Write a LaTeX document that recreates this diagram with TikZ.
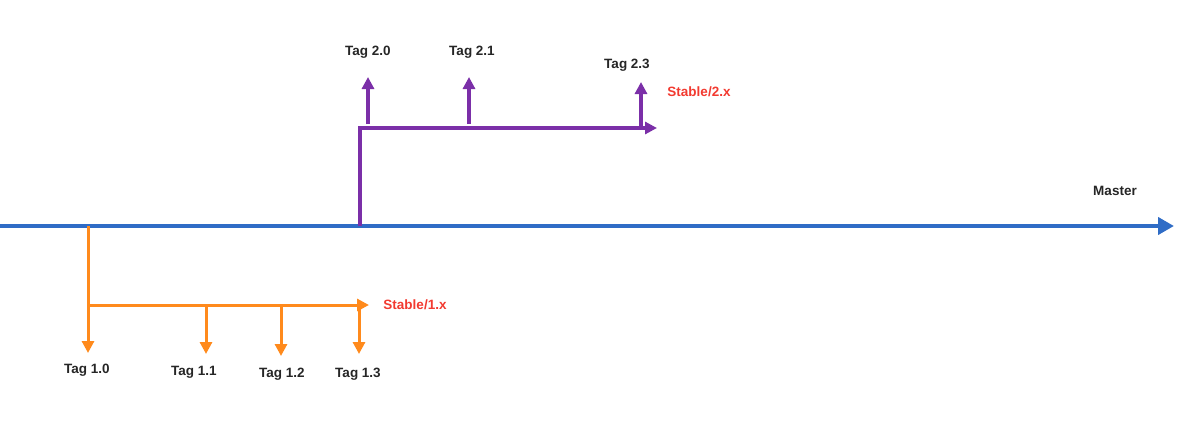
\documentclass[tikz,border=0pt]{standalone}
\usepackage{fontspec}
\setmainfont{Liberation Sans}
\usetikzlibrary{arrows.meta}
\definecolor{masterblue}{HTML}{2F6CC6}
\definecolor{purp}{HTML}{7B2FA8}
\definecolor{orng}{HTML}{FF8A1C}
\definecolor{redlbl}{HTML}{F23A30}
\tikzset{
  lbl/.style={font=\fontsize{13.5}{15}\selectfont\bfseries, text=black!85, inner sep=0pt},
  rlbl/.style={font=\fontsize{13.5}{15}\selectfont\bfseries, text=redlbl, inner sep=0pt},
  mline/.style={draw=masterblue, line width=4.5pt, -{Triangle[length=16pt,width=17pt]}},
  pline/.style={draw=purp, line width=3.5pt},
  pconn/.style={pline, -{Triangle[length=12pt,width=12pt]}},
  oline/.style={draw=orng, line width=3pt},
  oconn/.style={oline, -{Triangle[length=12pt,width=12pt]}}
}
\begin{document}
\begin{tikzpicture}[x=1pt,y=-1pt]
\useasboundingbox (0,0) rectangle (1179,429);
% master
\coordinate (m0) at (0,226);
\coordinate (m1) at (1174,226);
\draw[mline] (m0) -- (m1);
\node[lbl] (master) at (1115,191) {Master};
% purple branch
\coordinate (p0) at (360,226);
\coordinate (pc) at (360,128);
\coordinate (p1) at (657,128);
\draw[pconn] (p0) -- (pc) -- (p1);
\coordinate (t20s) at (368,124);
\coordinate (t21s) at (469,124);
\coordinate (t23s) at (641,128);
\coordinate (t20e) at (368,77);
\coordinate (t21e) at (469,77);
\coordinate (t23e) at (641,82);
\draw[pconn] (t20s) -- (t20e);
\draw[pconn] (t21s) -- (t21e);
\draw[pconn] (t23s) -- (t23e);
\node[lbl] (t20) at (368,52) {Tag 2.0};
\node[lbl] (t21) at (472,52) {Tag 2.1};
\node[lbl] (t23) at (627,65) {Tag 2.3};
\node[rlbl] (s2) at (699,92) {Stable/2.x};
% orange branch
\coordinate (o0) at (88,226);
\coordinate (oc) at (88,305);
\coordinate (o1) at (369,305);
\coordinate (t10e) at (88,353);
\draw[oconn] (o0) -- (t10e);
\draw[oconn] (oc) -- (o1);
\coordinate (t11s) at (206,305);
\coordinate (t12s) at (281,305);
\coordinate (t13s) at (359,305);
\coordinate (t11e) at (206,354);
\coordinate (t12e) at (281,356);
\coordinate (t13e) at (359,354);
\draw[oconn] (t11s) -- (t11e);
\draw[oconn] (t12s) -- (t12e);
\draw[oconn] (t13s) -- (t13e);
\node[lbl] (t10) at (87,370) {Tag 1.0};
\node[lbl] (t11) at (194,372) {Tag 1.1};
\node[lbl] (t12) at (282,374) {Tag 1.2};
\node[lbl] (t13) at (358,374) {Tag 1.3};
\node[rlbl] (s1) at (415,305) {Stable/1.x};
\end{tikzpicture}
\end{document}
